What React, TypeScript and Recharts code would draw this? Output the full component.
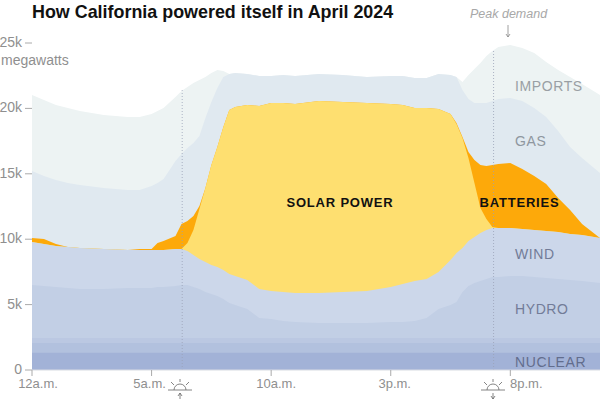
import React from "react";
import { AreaChart, Area, XAxis, YAxis, ReferenceLine } from "recharts";

// Time of day in hours after midnight.
const hours = [0,0.5,1,1.5,2,3,4,4.5,5,5.25,5.5,6,6.25,6.5,6.75,7,7.25,7.5,7.75,8,
  8.25,8.5,9,9.5,10,10.5,11,12,13,14,15,15.5,16,16.5,17,17.5,
  17.75,18,18.25,18.5,18.75,19,19.25,19.5,20,20.5,21,21.5,22,22.5,23,23.75];

// Top of each stacked band, thousands of megawatts.
const importsTop = [21.02,20.64,20.26,20.03,19.80,19.49,19.34,19.34,19.57,19.80,20.03,20.87,21.33,21.64,21.94,22.17,22.40,22.71,22.94,22.86,
  22.63,22.71,22.63,22.48,22.48,22.55,22.48,22.63,22.55,22.40,22.48,22.48,22.32,22.32,22.63,22.55,
  22.40,22.02,22.55,23.01,23.47,24.0,24.39,24.69,24.85,24.62,24.23,23.55,22.94,22.40,21.86,21.02];
const gasTop = [15.21,14.83,14.53,14.30,14.14,13.91,13.76,13.76,14.07,14.30,14.60,15.98,16.51,16.97,17.35,17.89,19.27,20.49,21.56,22.40,
  22.63,22.71,22.63,22.48,22.48,22.55,22.48,22.63,22.55,22.40,22.48,22.48,22.32,22.32,22.63,22.55,
  22.40,21.41,20.72,20.41,20.41,20.41,20.56,20.72,20.79,20.56,20.03,19.34,18.27,17.05,16.21,15.06];
const batteriesTop = [10.09,10.01,9.63,9.40,9.33,9.25,9.17,9.25,9.25,9.71,9.86,10.24,11.16,11.39,11.77,12.54,13.91,15.67,17.05,18.58,
  19.88,20.11,20.26,20.18,20.41,20.41,20.34,20.56,20.49,20.41,20.34,20.26,20.03,20.03,19.95,19.57,
  18.88,17.81,16.67,16.05,15.67,15.60,15.67,15.75,15.83,15.37,14.83,14.22,13.15,12.23,11.16,10.09];
const solarTop = [9.79,9.63,9.48,9.40,9.33,9.25,9.17,9.17,9.17,9.17,9.17,9.25,9.25,9.71,10.70,12.31,13.91,15.67,17.05,18.58,
  19.88,20.11,20.26,20.18,20.41,20.41,20.34,20.56,20.49,20.41,20.34,20.26,20.03,20.03,19.95,19.57,
  18.81,17.74,16.21,14.30,12.38,11.54,10.93,10.86,10.86,10.78,10.70,10.63,10.55,10.40,10.32,10.09];
const windTop = [9.79,9.63,9.48,9.40,9.33,9.25,9.17,9.17,9.17,9.17,9.17,9.25,9.25,9.10,8.79,8.49,8.26,8.03,7.87,7.65,
  7.34,7.19,6.88,6.19,6.04,5.96,5.89,5.89,5.96,6.04,6.35,6.57,6.80,6.96,7.49,8.41,
  8.94,9.33,9.86,10.17,10.47,10.70,10.86,10.86,10.86,10.78,10.70,10.63,10.55,10.40,10.32,10.09];
const hydroTop = [6.50,6.42,6.35,6.27,6.19,6.19,6.27,6.27,6.27,6.35,6.35,6.42,6.50,6.50,6.35,6.19,5.96,5.81,5.66,5.43,
  5.12,4.97,4.66,3.98,3.90,3.75,3.67,3.59,3.59,3.59,3.67,3.67,3.75,3.98,4.66,4.97,
  5.20,5.96,6.42,6.65,6.80,6.96,7.11,7.11,7.19,7.19,7.11,7.03,6.96,6.88,6.80,6.65];
const biomassTop = [2.45,2.45,2.45,2.45,2.45,2.45,2.45,2.45,2.45,2.45,2.45,2.45,2.45,2.45,2.45,2.45,2.45,2.45,2.45,2.45,
  2.45,2.45,2.45,2.45,2.45,2.45,2.45,2.45,2.45,2.45,2.45,2.45,2.45,2.45,2.45,2.45,
  2.45,2.45,2.45,2.45,2.45,2.45,2.45,2.45,2.45,2.45,2.45,2.45,2.45,2.45,2.45,2.45];
const geothermalTop = [2.06,2.06,2.06,2.06,2.06,2.06,2.06,2.06,2.06,2.06,2.06,2.06,2.06,2.06,2.06,2.06,2.06,2.06,2.06,2.06,
  2.06,2.06,2.06,2.06,2.06,2.06,2.06,2.06,2.06,2.06,2.06,2.06,2.06,2.06,2.06,2.06,
  2.06,2.06,2.06,2.06,2.06,2.06,2.06,2.06,2.06,2.06,2.06,2.06,2.06,2.06,2.06,2.06];
const nuclearTop = [1.31,1.31,1.31,1.31,1.31,1.31,1.31,1.31,1.31,1.31,1.31,1.31,1.31,1.31,1.31,1.31,1.31,1.31,1.31,1.31,
  1.31,1.31,1.31,1.31,1.31,1.31,1.31,1.31,1.31,1.31,1.31,1.31,1.31,1.31,1.31,1.31,
  1.31,1.31,1.31,1.31,1.31,1.31,1.31,1.31,1.31,1.31,1.31,1.31,1.31,1.31,1.31,1.31];

const xTicks = [0, 5, 10, 15, 20];
const xTickLabels = ["12a.m.", "5a.m.", "10a.m.", "3p.m.", "8p.m."];
const yTicks = [0, 5, 10, 15, 20, 25];
const sunrise = 6.28;
const sunset = 19.3;

const rows = hours.map((hour, i) => ({
  hour,
  imports: importsTop[i],
  gas: gasTop[i],
  batteries: batteriesTop[i],
  solar: solarTop[i],
  wind: windTop[i],
  hydro: hydroTop[i],
  biomass: biomassTop[i],
  geothermal: geothermalTop[i],
  nuclear: nuclearTop[i],
}));

const layers: [string, string][] = [
  ["imports", "#edf3f3"],
  ["gas", "#e0e9f0"],
  ["batteries", "#fda90a"],
  ["solar", "#fedf70"],
  ["wind", "#ccd7ea"],
  ["hydro", "#c2cfe5"],
  ["biomass", "#bbc8e2"],
  ["geothermal", "#b2c1de"],
  ["nuclear", "#a2b2d7"],
];

const FONT = "'Liberation Sans', Arial, sans-serif";
const GREY = "#8f8f8f";
const tickShift: Record<number, number> = { 0: 6, 5: -2, 10: 5, 15: 4, 20: 16 };

const XTick = (props: any) => {
  const { x, y, payload } = props;
  const label = xTickLabels[xTicks.indexOf(payload.value)];
  return (
    <text x={x + (tickShift[payload.value] || 0)} y={y + 10} textAnchor="middle" fontSize={13} fontFamily={FONT} fill={GREY}>
      {label}
    </text>
  );
};

const YTick = (props: any) => {
  const { x, y, payload } = props;
  return (
    <text x={x - 1} y={y + 4} textAnchor="end" fontSize={14} fontFamily={FONT} fill={GREY}>
      {payload.value === 0 ? "0" : `${payload.value}k`}
    </text>
  );
};

const Sun = ({ cx, down }: { cx: number; down: boolean }) => (
  <g stroke="#666" strokeWidth={0.8} fill="none">
    <line x1={cx - 12} x2={cx + 12} y1={390} y2={390} />
    <path d={`M${cx - 6} 390 A6 6 0 0 1 ${cx + 6} 390`} />
    <line x1={cx} x2={cx} y1={379} y2={382} />
    <line x1={cx - 9} x2={cx - 6} y1={382} y2={385} />
    <line x1={cx + 9} x2={cx + 6} y1={382} y2={385} />
    <line x1={cx} x2={cx} y1={393} y2={399} />
    {down ? (
      <path d={`M${cx - 2} 396 L${cx} 399 L${cx + 2} 396`} />
    ) : (
      <path d={`M${cx - 2} 396 L${cx} 393 L${cx + 2} 396`} />
    )}
  </g>
);

const Label = ({ x, y, fill, text }: { x: number; y: number; fill: string; text: string }) => (
  <text x={x} y={y} fontSize={14} fontFamily={FONT} fill={fill} letterSpacing={0.6}>
    {text}
  </text>
);

export default function App() {
  return (
    <div style={{ position: "absolute", left: 0, top: 0, width: 600, height: 400, background: "#fff", overflow: "hidden" }}>
      <AreaChart width={600} height={400} data={rows} margin={{ top: 43, right: 0, bottom: 0, left: 0 }}>
        <XAxis
          dataKey="hour"
          type="number"
          domain={[0, 23.75]}
          ticks={xTicks}
          tick={<XTick />}
          tickSize={6}
          tickLine={{ stroke: "#aaa" }}
          axisLine={{ stroke: "#d8dbe2" }}
          height={30}
          interval={0}
          allowDataOverflow
        />
        <YAxis
          type="number"
          domain={[0, 25]}
          ticks={yTicks}
          tick={<YTick />}
          width={32}
          tickSize={7}
          tickMargin={2}
          tickLine={{ stroke: "#aaa" }}
          axisLine={false}
          interval={0}
        />
        {layers.map(([key, color]) => (
          <Area key={key} dataKey={key} type="linear" fill={color} fillOpacity={1} stroke="none" dot={false} activeDot={false} isAnimationActive={false} />
        ))}
        <ReferenceLine segment={[{ x: sunrise, y: 0 }, { x: sunrise, y: 21.4 }]} stroke="#9aa3b8" strokeOpacity={0.8} strokeWidth={1} strokeDasharray="1 2" />
        <ReferenceLine segment={[{ x: sunset, y: 0 }, { x: sunset, y: 24.4 }]} stroke="#9aa3b8" strokeOpacity={0.8} strokeWidth={1} strokeDasharray="1 2" />
      </AreaChart>
      <svg width={600} height={400} style={{ position: "absolute", left: 0, top: 0, pointerEvents: "none" }}>
        <text x={32} y={18} fontSize={17.9} fontWeight={700} fontFamily={FONT} fill="#111">How California powered itself in April 2024</text>
        <text x={1} y={65} fontSize={14} fontFamily={FONT} fill={GREY}>megawatts</text>
        <text x={470} y={18} fontSize={12.5} fontStyle="italic" fontFamily={FONT} fill="#a8a8a8">Peak demand</text>
        <g stroke="#888" strokeWidth={0.8} fill="none">
          <line x1={508} x2={508} y1={25} y2={37} />
          <path d="M506 34 L508 37 L510 34" />
        </g>
        <Label x={515} y={91} fill="#9a9fa4" text="IMPORTS" />
        <Label x={515} y={146} fill="#8f979f" text="GAS" />
        <Label x={515} y={259} fill="#727c98" text="WIND" />
        <Label x={515} y={314} fill="#727c98" text="HYDRO" />
        <Label x={515} y={367} fill="#626d8d" text="NUCLEAR" />
        <text x={340} y={207} textAnchor="middle" fontSize={13} fontWeight={700} fontFamily={FONT} fill="#111" letterSpacing={0.8}>SOLAR POWER</text>
        <text x={519.5} y={207} textAnchor="middle" fontSize={13} fontWeight={700} fontFamily={FONT} fill="#111" letterSpacing={0.8}>BATTERIES</text>
        <Sun cx={180} down={false} />
        <Sun cx={493} down={true} />
      </svg>
    </div>
  );
}
